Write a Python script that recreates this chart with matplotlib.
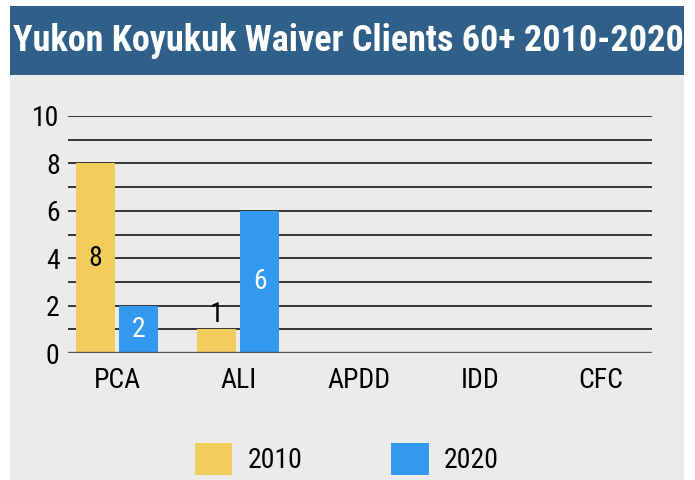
import matplotlib
matplotlib.use("Agg")
import matplotlib.pyplot as plt
from matplotlib.patches import Rectangle, Patch
from matplotlib.ticker import MultipleLocator

categories = ["PCA", "ALI", "APDD", "IDD", "CFC"]
series_names = ["2010", "2020"]
values_2010 = [8, 1, 0, 0, 0]
values_2020 = [2, 6, 0, 0, 0]
title = "Yukon Koyukuk Waiver Clients 60+ 2010-2020"
ytick_values = [0, 2, 4, 6, 8, 10]

C_TITLE = "#2F6089"
C_PANEL = "#EBEBEB"
C_2010 = "#F2CD5E"
C_2020 = "#3398F0"

plt.rcParams['font.family'] = ['Roboto Condensed', 'Fira Sans Condensed', 'DejaVu Sans']

W, H = 695, 480
fig = plt.figure(figsize=(W / 100, H / 100), dpi=100)
fig.patch.set_facecolor("white")

# title bar and panel
fig.patches.append(Rectangle((10 / W, 0), 674 / W, (H - 75) / H, transform=fig.transFigure,
                             facecolor=C_PANEL, edgecolor="none", zorder=-2))
fig.patches.append(Rectangle((10 / W, (H - 75) / H), 674 / W, 69 / H, transform=fig.transFigure,
                             facecolor=C_TITLE, edgecolor="none", zorder=-2))
fig.text(348 / W, (H - 41) / H, title, ha="center", va="center", color="white",
         fontsize=26, fontweight="bold")

ax = fig.add_axes([68 / W, (H - 353) / H, (652 - 68) / W, (353 - 116) / H])
ax.set_facecolor("none")
ax.set_xlim(-0.405, 4.42)
ax.set_ylim(0, 10)
for s in ax.spines.values():
    s.set_visible(False)

ax.set_yticks(ytick_values)
ax.set_yticklabels([str(v) for v in ytick_values])
ax.yaxis.set_minor_locator(MultipleLocator(1))
ax.grid(axis="y", which="both", color="#262626", linewidth=1.3, zorder=0)
ax.axhline(0, color="#555555", linewidth=2.4, zorder=3)
ax.tick_params(axis="y", which="both", length=0, pad=6, labelsize=20)
ax.tick_params(axis="x", length=0, pad=10, labelsize=20)
ax.set_axisbelow(True)

x = list(range(len(categories)))
w = 0.32
off = 0.18
b1 = ax.bar([i - off for i in x], values_2010, width=w, color=C_2010, zorder=2)
b2 = ax.bar([i + off for i in x], values_2020, width=w, color=C_2020, zorder=2)
ax.set_xticks(x)
ax.set_xticklabels(categories)

for bars, vals, inside_color in ((b1, values_2010, "black"), (b2, values_2020, "white")):
    for rect, v in zip(bars, vals):
        if v == 0:
            continue
        cx = rect.get_x() + rect.get_width() / 2
        if v >= 2:
            ax.text(cx, v / 2, str(v), ha="center", va="center", color=inside_color,
                    fontsize=20, zorder=4)
        else:
            ax.text(cx, v + 0.05, str(v), ha="center", va="bottom", color="black",
                    fontsize=20, zorder=4)

handles = [Patch(facecolor=C_2010, edgecolor="none"), Patch(facecolor=C_2020, edgecolor="none")]
fig.legend(handles, series_names, loc="center", bbox_to_anchor=(347 / W, (H - 459) / H),
           ncol=2, frameon=False, fontsize=20, handlelength=1.35, handleheight=1.45,
           handletextpad=0.55, columnspacing=3.2)

fig.savefig("out.png", dpi=100)
